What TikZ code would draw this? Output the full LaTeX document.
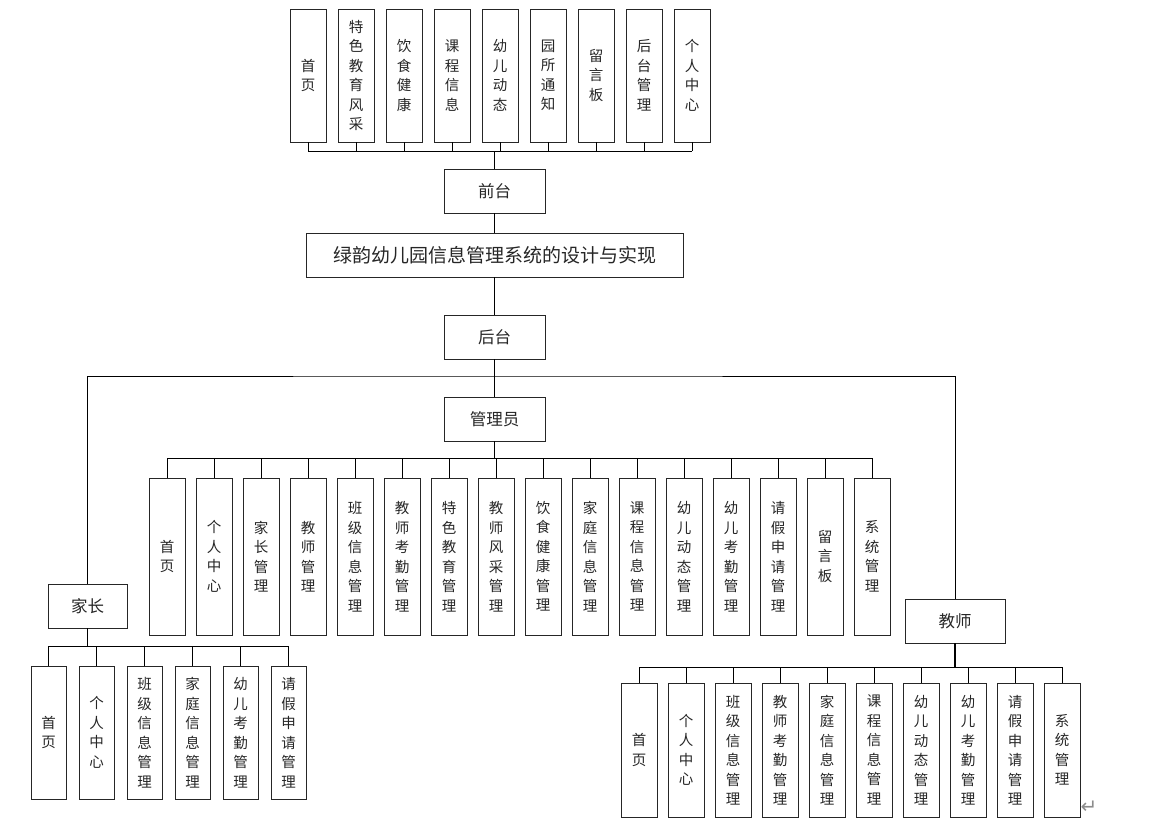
\documentclass[tikz,border=0pt]{standalone}
\usepackage{fontspec}
\setmainfont{Noto Sans CJK SC}
\newfontfamily\dejavu{DejaVu Sans}
\begin{document}
\begin{tikzpicture}[x=1pt,y=-1pt,
  box/.style={draw=black!85,line width=0.9pt,inner sep=0pt,align=center,text=black!85,font=\fontsize{16.5}{18}\selectfont},
  vbox/.style={draw=black!85,line width=0.9pt,inner sep=0pt,minimum width=36pt,align=center,text=black!85,font=\fontsize{14.5}{19.5}\selectfont},
  conn/.style={line width=0.9pt,draw=black}]
\useasboundingbox (0,0) rectangle (1155,821);

% ---------- front end ----------
\foreach \t [count=\i from 0] in {首\\页,特\\色\\教\\育\\风\\采,饮\\食\\健\\康,课\\程\\信\\息,幼\\儿\\动\\态,园\\所\\通\\知,留\\言\\板,后\\台\\管\\理,个\\人\\中\\心}
  \node[vbox,minimum height=133pt] (f\i) at (308+48*\i,75.5) {\t};
\node[box,minimum width=101pt,minimum height=44pt] (front) at (494.5,191) {前台};
\coordinate (fbus) at (494.5,151);
\draw[conn] (f0.south |- fbus) -- (f8.south |- fbus);
\foreach \i in {0,...,8} \draw[conn] (f\i.south) -- (f\i.south |- fbus);
\draw[conn] (front.north) -- (fbus);

% ---------- title ----------
\node[box,minimum width=377pt,minimum height=44pt,font=\fontsize{19}{21}\selectfont] (title) at (494.5,255) {绿韵幼儿园信息管理系统的设计与实现};
\node[box,minimum width=101pt,minimum height=44pt] (back) at (494.5,337) {后台};
\node[box,minimum width=101pt,minimum height=44pt] (admin) at (494.5,419) {管理员};
\draw[conn] (front.south) -- (title.north);
\draw[conn] (title.south) -- (back.north);
\draw[conn] (back.south) -- (admin.north);

% ---------- roles ----------
\node[box,minimum width=79pt,minimum height=44pt] (parent) at (87.5,606) {家长};
\node[box,minimum width=100pt,minimum height=44pt] (teacher) at (955,621) {教师};
\coordinate (hl) at (494.5,376);
\draw[conn] (parent.north) |- (hl) -| (teacher.north);

% ---------- admin children ----------
\foreach \t [count=\i from 0] in {首\\页,个\\人\\中\\心,家\\长\\管\\理,教\\师\\管\\理,班\\级\\信\\息\\管\\理,教\\师\\考\\勤\\管\\理,特\\色\\教\\育\\管\\理,教\\师\\风\\采\\管\\理,饮\\食\\健\\康\\管\\理,家\\庭\\信\\息\\管\\理,课\\程\\信\\息\\管\\理,幼\\儿\\动\\态\\管\\理,幼\\儿\\考\\勤\\管\\理,请\\假\\申\\请\\管\\理,留\\言\\板,系\\统\\管\\理}
  \node[vbox,minimum height=157pt] (a\i) at (167+47*\i,556.5) {\t};
\coordinate (abus) at (494.5,458);
\draw[conn] (a0.north |- abus) -- (a15.north |- abus);
\foreach \i in {0,...,15} \draw[conn] (a\i.north) -- (a\i.north |- abus);
\draw[conn] (admin.south) -- (abus);

% ---------- parent children ----------
\foreach \t [count=\i from 0] in {首\\页,个\\人\\中\\心,班\\级\\信\\息\\管\\理,家\\庭\\信\\息\\管\\理,幼\\儿\\考\\勤\\管\\理,请\\假\\申\\请\\管\\理}
  \node[vbox,minimum width=35pt,minimum height=133pt] (p\i) at (48.5+48*\i,732.5) {\t};
\coordinate (pbus) at (87.5,646);
\draw[conn] (p0.north |- pbus) -- (p5.north |- pbus);
\foreach \i in {0,...,5} \draw[conn] (p\i.north) -- (p\i.north |- pbus);
\draw[conn] (parent.south) -- (pbus);

% ---------- teacher children ----------
\foreach \t [count=\i from 0] in {首\\页,个\\人\\中\\心,班\\级\\信\\息\\管\\理,教\\师\\考\\勤\\管\\理,家\\庭\\信\\息\\管\\理,课\\程\\信\\息\\管\\理,幼\\儿\\动\\态\\管\\理,幼\\儿\\考\\勤\\管\\理,请\\假\\申\\请\\管\\理,系\\统\\管\\理}
  \node[vbox,minimum height=134pt] (t\i) at (639+47*\i,750) {\t};
\coordinate (tbus) at (955,667);
\draw[conn] (t0.north |- tbus) -- (t9.north |- tbus);
\foreach \i in {0,...,9} \draw[conn] (t\i.north) -- (t\i.north |- tbus);
\draw[conn,line width=1.6pt] (teacher.south) -- (tbus);

% paragraph mark
\node[text=black!45,font=\dejavu\fontsize{20}{20}\selectfont,inner sep=0pt] (pm) at (1089,807) {↵};
\end{tikzpicture}
\end{document}
